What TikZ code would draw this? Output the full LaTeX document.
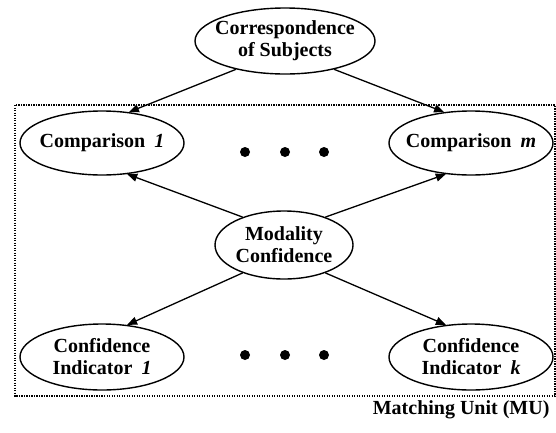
\documentclass[tikz,border=0pt]{standalone}
\usepackage{fontspec}
\setmainfont{Liberation Serif}
\usetikzlibrary{shapes.geometric, arrows.meta}

\begin{document}
\begin{tikzpicture}[x=1pt, y=-1pt, font=\fontsize{20}{22}\selectfont\bfseries,
    unit/.style={draw, ellipse, line width=1.4pt, inner ysep=0pt, inner xsep=-14pt, align=center,
        minimum width=164pt, minimum height=64pt},
    link/.style={-{Triangle[length=10pt, width=8pt]}, line width=1.3pt}]
    \useasboundingbox (0,0) rectangle (556,432);

    % matching unit frame
    \draw[line width=1.3pt, dash pattern=on 1.3pt off 1.2pt] (15,105) rectangle (555,396);
    \node[anchor=east] (mu) at (553,410) {Matching Unit (MU)};

    \node[unit, minimum width=180pt, minimum height=66pt] (corr) at (285,41) {Correspondence\\of Subjects};

    \node[unit] (comp1) at (102,143) {Comparison\hspace{0.45em}\textit{1}};
    \node[unit] (compm) at (471,143) {Comparison\hspace{0.45em}\textit{m}};

    \node[unit, minimum width=138pt, minimum height=68pt] (modal) at (284,245) {Modality\\Confidence};

    \node[unit, minimum height=66pt] (conf1) at (102,357) {Confidence\\Indicator\hspace{0.45em}\textit{1}};
    \node[unit, minimum height=66pt] (confk) at (471,357) {Confidence\\Indicator\hspace{0.45em}\textit{k}};

    % dots between the units
    \foreach \y in {152,355}
        \foreach \x in {245,285,324}
            \fill (\x,\y) circle (5pt);

    \draw[link] (corr.210) -- (comp1.49);
    \draw[link] (corr.330) -- (compm.131);
    \draw[link] (modal.146) -- (comp1.309);
    \draw[link] (modal.34) -- (compm.231);
    \draw[link] (modal.214) -- (conf1.52);
    \draw[link] (modal.326) -- (confk.128);
\end{tikzpicture}
\end{document}
